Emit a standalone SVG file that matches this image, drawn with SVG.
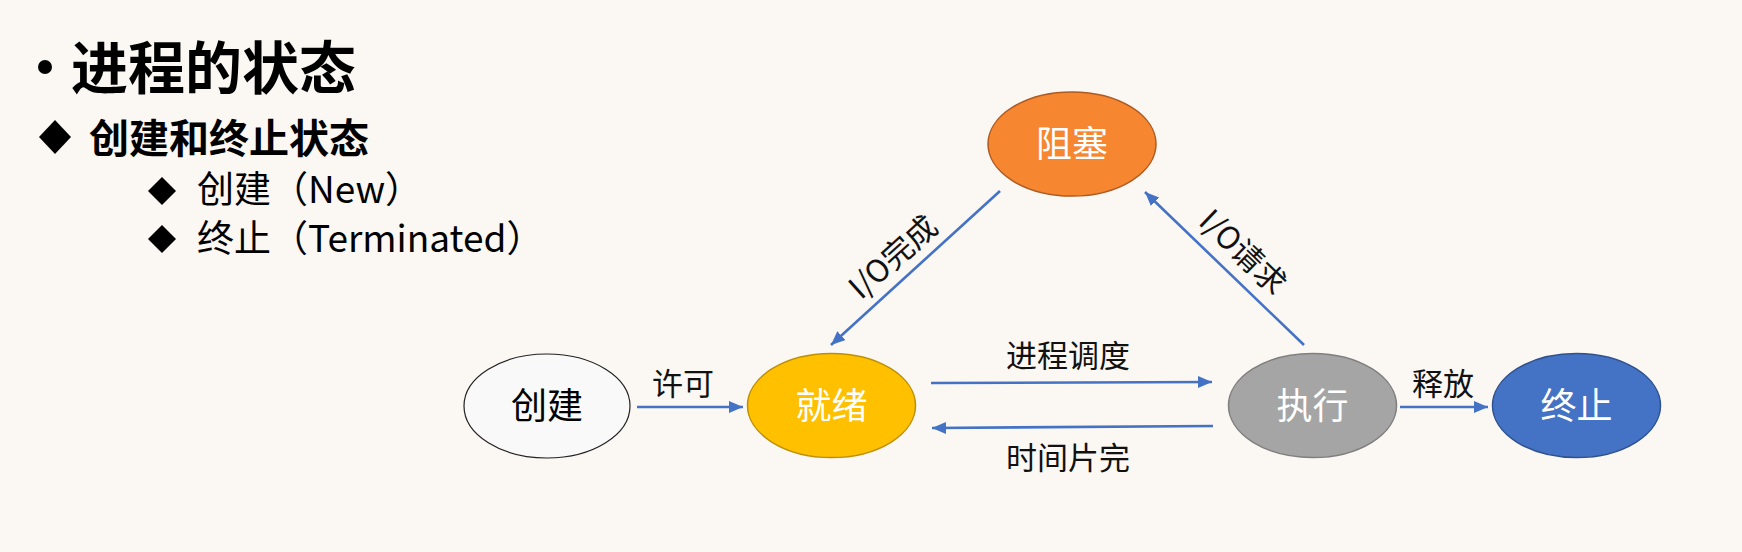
<svg xmlns="http://www.w3.org/2000/svg" width="1742" height="552" viewBox="0 0 1742 552">
<style>
.t{font-family:"Noto Sans CJK SC","Noto Sans",sans-serif;fill:#000}
.b{font-weight:bold}
.nl{font-family:"Noto Sans CJK SC","Noto Sans",sans-serif;font-size:36px;text-anchor:middle;fill:#fff}
.el{font-family:"Noto Sans CJK SC","Noto Sans",sans-serif;font-size:31px;fill:#111}
.c{stroke:#4472C4;stroke-width:2.6;fill:none;marker-end:url(#ah)}
</style>
<defs>
<marker id="ah" markerUnits="userSpaceOnUse" markerWidth="16" markerHeight="14" refX="14" refY="6" orient="auto">
<path d="M0,0 L14,6 L0,12 Z" fill="#4472C4"/>
</marker>
</defs>
<rect width="1742" height="552" fill="#FBF7F3"/>
<g id="heading">
<circle cx="45" cy="67" r="7" fill="#000"/>
<text class="t b" x="71" y="89" font-size="57">进程的状态</text>
<polygon points="55,120 71,137 55,154 39,137" fill="#000"/>
<text class="t b" x="89" y="153" font-size="40">创建和终止状态</text>
<polygon points="162,177 176,191 162,205 148,191" fill="#000"/>
<text class="t" x="197" y="203" font-size="37">创建（New）</text>
<polygon points="162,225 176,239 162,253 148,239" fill="#000"/>
<text class="t" x="197" y="252" font-size="37">终止（Terminated）</text>
</g>
<g id="connectors">
<line class="c" x1="637" y1="407" x2="743" y2="407"/>
<line class="c" x1="931" y1="383" x2="1212" y2="382"/>
<line class="c" x1="1213" y1="426" x2="932" y2="428"/>
<line class="c" x1="1400" y1="407" x2="1488" y2="407"/>
<line class="c" x1="1000" y1="191" x2="831" y2="345"/>
<line class="c" x1="1304" y1="345" x2="1145" y2="192"/>
<text class="el" x="652" y="395">许可</text>
<text class="el" x="1006" y="367">进程调度</text>
<text class="el" x="1006" y="469">时间片完</text>
<text class="el" x="1412" y="395">释放</text>
<text class="el" text-anchor="middle" transform="translate(893,257) rotate(-42)" y="11">I/O完成</text>
<text class="el" text-anchor="middle" transform="translate(1243,252) rotate(44)" y="11">I/O请求</text>
</g>
<g id="node-create">
<ellipse cx="547" cy="406" rx="83" ry="52" fill="#F9F9F9" stroke="#222" stroke-width="1.2"/>
<text class="nl" x="547" y="419" style="fill:#000">创建</text>
</g>
<g id="node-ready">
<ellipse cx="831.5" cy="405.5" rx="84" ry="52" fill="#FFC000" stroke="#BF9000" stroke-width="1.5"/>
<text class="nl" x="831.5" y="419">就绪</text>
</g>
<g id="node-blocked">
<ellipse cx="1072" cy="144" rx="84" ry="52" fill="#F6862F" stroke="#AE5A21" stroke-width="1.5"/>
<text class="nl" x="1072" y="157">阻塞</text>
</g>
<g id="node-running">
<ellipse cx="1312.5" cy="405.5" rx="84" ry="52" fill="#A5A5A5" stroke="#7F7F7F" stroke-width="1.5"/>
<text class="nl" x="1312.5" y="419">执行</text>
</g>
<g id="node-terminated">
<ellipse cx="1576.5" cy="405.5" rx="84" ry="52" fill="#4472C4" stroke="#2F528F" stroke-width="1.5"/>
<text class="nl" x="1576.5" y="419">终止</text>
</g>
</svg>
